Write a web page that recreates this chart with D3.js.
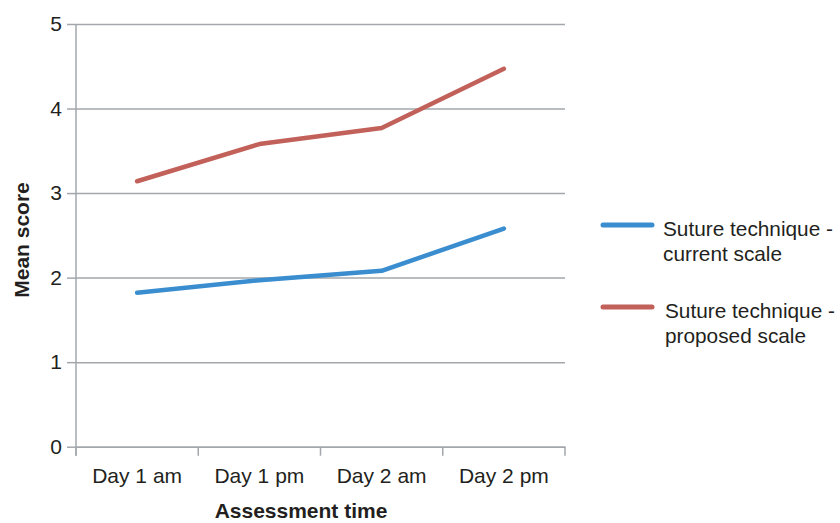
<!DOCTYPE html>
<html>
<head>
<meta charset="utf-8">
<script src="https://cdn.jsdelivr.net/npm/d3@7"></script>
<style>
    body { margin: 0; background: #fff; }
    text { font-family: "Liberation Sans", Arial, sans-serif; fill: #231f20; }
    .axis path, .axis line { stroke: #a3a7ab; stroke-width: 1.5; }
    .grid line { stroke: #a3a7ab; stroke-width: 1.5; }
    .grid path { display: none; }
</style>
</head>
<body>
<div id="chart"></div>
<script>
const categories = ['Day 1 am', 'Day 1 pm', 'Day 2 am', 'Day 2 pm'];
const currentScale = [1.82, 1.97, 2.08, 2.58];
const proposedScale = [3.14, 3.58, 3.77, 4.47];
const seriesNames = [['Suture technique -', 'current scale'], ['Suture technique -', 'proposed scale']];
const seriesColors = ['#3a8dcf', '#c2605a'];
const yTicks = [0, 1, 2, 3, 4, 5];

const width = 840, height = 523;
const margin = {top: 24, left: 76, right: 275, bottom: 76};
const innerW = width - margin.left - margin.right;
const innerH = height - margin.top - margin.bottom - 0.3;

const svg = d3.select('#chart').append('svg')
    .attr('width', width)
    .attr('height', height);

const chart = svg.append('g')
    .attr('transform', `translate(${margin.left},${margin.top})`);

const xScale = d3.scaleBand()
    .domain(categories)
    .range([0, innerW]);

const yScale = d3.scaleLinear()
    .domain([0, 5])
    .range([innerH, 0]);

// horizontal gridlines
chart.append('g')
    .attr('class', 'grid')
    .call(d3.axisLeft(yScale).tickValues(yTicks).tickSize(-innerW).tickFormat(''));

// y axis
const yAxisG = chart.append('g')
    .attr('class', 'axis')
    .call(d3.axisLeft(yScale).tickValues(yTicks).tickFormat(d3.format('d'))
        .tickSize(9).tickPadding(5).tickSizeOuter(0));
yAxisG.select('.domain').attr('d', `M0,0V${innerH + 9}`);
yAxisG.selectAll('text').style('font-size', '21px').attr('fill', '#231f20');

// x axis
const xAxisG = chart.append('g')
    .attr('class', 'axis')
    .attr('transform', `translate(0,${innerH})`)
    .call(d3.axisBottom(xScale).tickSize(0).tickSizeOuter(0).tickPadding(21));
xAxisG.selectAll('text').style('font-size', '21px').attr('fill', '#231f20');
xAxisG.selectAll('.tick line').remove();
// tick marks between categories
const edges = categories.map(c => xScale(c)).concat([innerW]);
xAxisG.selectAll('.edge')
    .data(edges)
    .enter().append('line')
    .attr('class', 'edge')
    .attr('x1', d => d).attr('x2', d => d)
    .attr('y1', 0).attr('y2', 9)
    .attr('stroke', '#a3a7ab').attr('stroke-width', 1.5);

// lines
const line = d3.line()
    .x((d, i) => xScale(categories[i]) + xScale.bandwidth() / 2)
    .y(d => yScale(d));

[currentScale, proposedScale].forEach((values, k) => {
    chart.append('path')
        .datum(values)
        .attr('fill', 'none')
        .attr('stroke', seriesColors[k])
        .attr('stroke-width', 4.5)
        .attr('stroke-linecap', 'round')
        .attr('stroke-linejoin', 'round')
        .attr('d', line);
});

// axis titles
svg.append('text')
    .attr('x', 301)
    .attr('y', 518)
    .attr('text-anchor', 'middle')
    .style('font-size', '21px')
    .style('font-weight', 'bold')
    .text('Assessment time');

svg.append('text')
    .attr('transform', 'translate(29,240) rotate(-90)')
    .attr('text-anchor', 'middle')
    .style('font-size', '21px')
    .style('font-weight', 'bold')
    .text('Mean score');

// legend
const legendY = [225, 307];
const legendTextX = [663, 665];
seriesNames.forEach((lines, k) => {
    const g = svg.append('g');
    g.append('line')
        .attr('x1', 603).attr('x2', 652)
        .attr('y1', legendY[k]).attr('y2', legendY[k])
        .attr('stroke', seriesColors[k])
        .attr('stroke-width', 5)
        .attr('stroke-linecap', 'round');
    lines.forEach((t, j) => {
        g.append('text')
            .attr('x', legendTextX[k])
            .attr('y', legendY[k] + 11 + j * 25)
            .style('font-size', '20.8px')
            .text(t);
    });
});
</script>
</body>
</html>
